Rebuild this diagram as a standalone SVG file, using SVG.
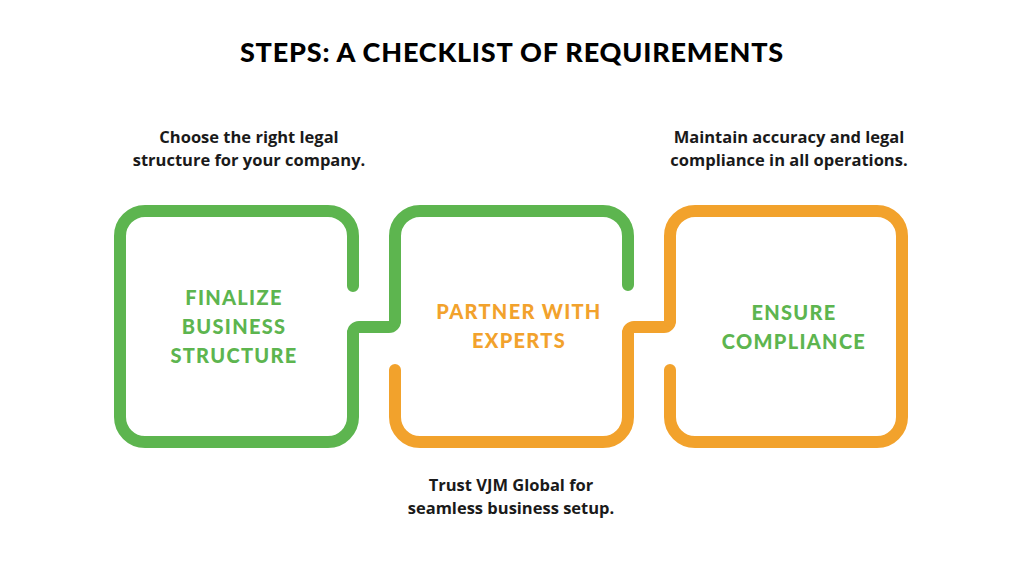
<svg xmlns="http://www.w3.org/2000/svg" width="1024" height="576" viewBox="0 0 1024 576">
<style>
.g{fill:none;stroke:#5DB54F;stroke-width:12;stroke-linecap:round;stroke-linejoin:round}
.o{fill:none;stroke:#F2A22C;stroke-width:12;stroke-linecap:round;stroke-linejoin:round}
.title{font-family:Lato,"DejaVu Sans",sans-serif;font-weight:900;font-size:27px;letter-spacing:0.8px;fill:#000;text-anchor:middle}
.lbl{font-family:Lato,"DejaVu Sans",sans-serif;font-weight:900;font-size:20px;letter-spacing:1.3px;text-anchor:middle}
.lg{fill:#5DB54F}
.lo{fill:#F2A22C}
.desc{font-family:"Open Sans","DejaVu Sans",sans-serif;font-weight:700;font-size:16.5px;fill:#1a1a1a;text-anchor:middle}
</style>
<rect width="1024" height="576" fill="#fff"/>
<text class="title" x="512" y="62">STEPS: A CHECKLIST OF REQUIREMENTS</text>
<g id="connectors">
<path class="g" d="M353,340 V333 A6 6 0 0 1 359,327 H389 A6 6 0 0 0 395,321 V314"/>
<path class="o" d="M628,340 V333 A6 6 0 0 1 634,327 H664 A6 6 0 0 0 670,321 V314"/>
</g>
<g id="node-finalize">
<path class="g" d="M353,286 V236 A25 25 0 0 0 328,211 H145 A25 25 0 0 0 120,236 V417 A25 25 0 0 0 145,442 H328 A25 25 0 0 0 353,417 V333"/>
<text class="lbl lg" x="234" y="305">FINALIZE</text>
<text class="lbl lg" x="234" y="334">BUSINESS</text>
<text class="lbl lg" x="234" y="363">STRUCTURE</text>
<text class="desc" x="249" y="143">Choose the right legal</text>
<text class="desc" x="249" y="166">structure for your company.</text>
</g>
<g id="node-partner">
<path class="g" d="M395,321 V236 A25 25 0 0 1 420,211 H603 A25 25 0 0 1 628,236 V285"/>
<path class="o" d="M395,370 V417 A25 25 0 0 0 420,442 H603 A25 25 0 0 0 628,417 V333"/>
<text class="lbl lo" x="519" y="319">PARTNER WITH</text>
<text class="lbl lo" x="519" y="348">EXPERTS</text>
<text class="desc" x="511" y="491">Trust VJM Global for</text>
<text class="desc" x="511" y="514">seamless business setup.</text>
</g>
<g id="node-ensure">
<path class="o" d="M670,321 V236 A25 25 0 0 1 695,211 H877 A25 25 0 0 1 902,236 V417 A25 25 0 0 1 877,442 H695 A25 25 0 0 1 670,417 V370"/>
<text class="lbl lg" x="794" y="320">ENSURE</text>
<text class="lbl lg" x="794" y="349">COMPLIANCE</text>
<text class="desc" x="789" y="143">Maintain accuracy and legal</text>
<text class="desc" x="789" y="166">compliance in all operations.</text>
</g>
</svg>
